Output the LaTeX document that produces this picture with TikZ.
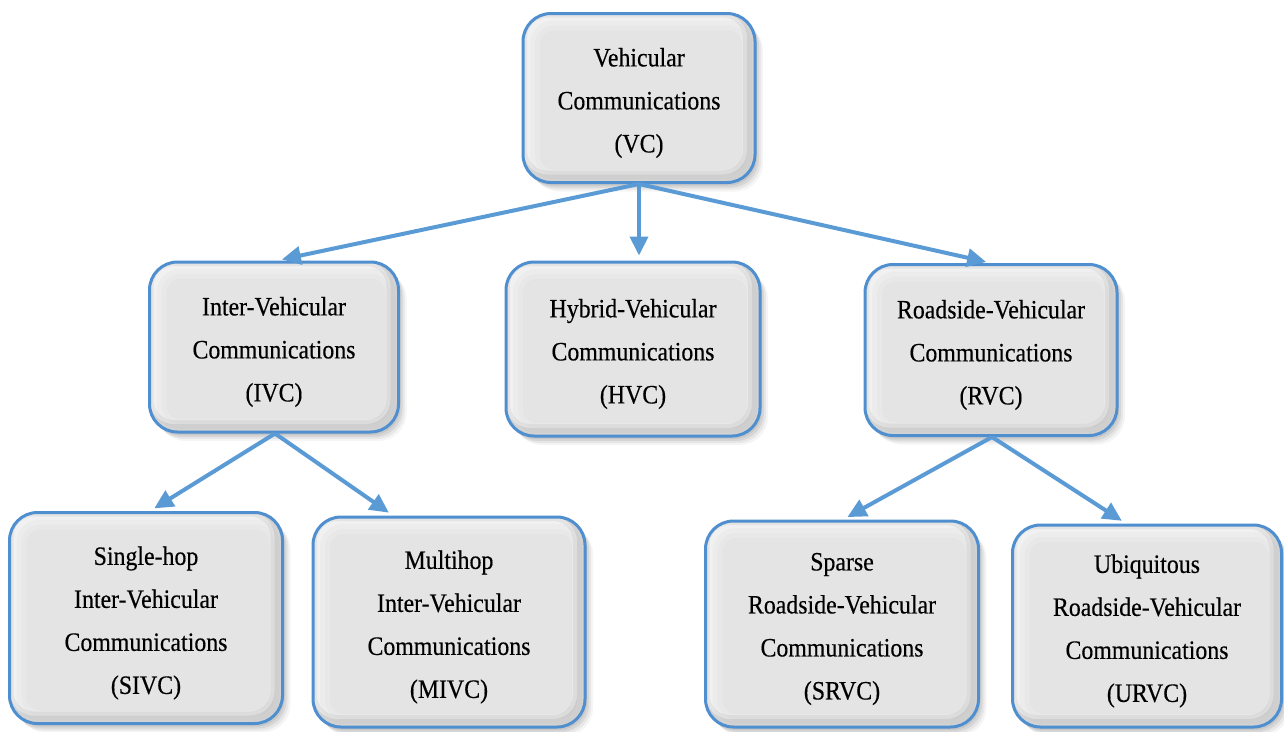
\documentclass[tikz,border=0pt]{standalone}
\usepackage{fontspec}
\setmainfont{Liberation Serif}[FakeStretch=0.9, FakeBold=0.35]
\usetikzlibrary{arrows.meta}
\definecolor{boxblue}{HTML}{4F8FCF}
\definecolor{arrowblue}{HTML}{5B9BD5}
\definecolor{boxgray}{HTML}{E4E4E4}
\tikzset{
  x=1pt, y=-1pt,
  softshadow/.style={preaction={fill=black, opacity=#1}},
  vbox/.style n args={3}{
    rounded corners=28pt, draw=boxblue, line width=3pt, fill=boxgray,
    minimum width=#1, minimum height=#2, inner sep=0pt,
    % soft shadow below and to the right
    preaction={fill=black, opacity=0.07, transform canvas={shift={(2pt,-3pt)}}},
    preaction={fill=black, opacity=0.07, transform canvas={shift={(4pt,-5pt)}}},
    preaction={fill=black, opacity=0.06, transform canvas={shift={(6pt,-7pt)}}},
    preaction={fill=black, opacity=0.04, transform canvas={shift={(8pt,-9pt)}}},
    label={[align=center, yshift=-5pt, font=\fontsize{26.5}{43}\selectfont]center:#3},
    path picture={
      \foreach \w/\o in {30/0.16, 20/0.2, 10/0.28}{
        \draw[white, opacity=\o, line width=\w pt, rounded corners=28pt]
          ([shift={(2pt,-2pt)}]path picture bounding box.south west) rectangle
          ([shift={(2pt,-2pt)}]path picture bounding box.north east);
      }
      \foreach \w/\o in {16/0.05, 8/0.07}{
        \draw[black, opacity=\o, line width=\w pt, rounded corners=28pt]
          ([shift={(-4pt,4pt)}]path picture bounding box.south west) rectangle
          ([shift={(-4pt,4pt)}]path picture bounding box.north east);
      }
    }
  },
  link/.style={draw=arrowblue, line width=4pt,
    -{Triangle[length=19pt,width=18pt]}, shorten >=5pt}
}
\begin{document}
\begin{tikzpicture}
\useasboundingbox (0,0) rectangle (1284,731);
\clip (0,0) rectangle (1284,731);

% top level
\node[vbox={232pt}{169pt}{Vehicular\\Communications\\(VC)}] (vc) at (639,98) {};

% second level
\node[vbox={249pt}{170pt}{Inter-Vehicular\\Communications\\(IVC)}] (ivc) at (274,347) {};
\node[vbox={254pt}{174pt}{Hybrid-Vehicular\\Communications\\(HVC)}] (hvc) at (633,349) {};
\node[vbox={252pt}{171pt}{Roadside-Vehicular\\Communications\\(RVC)}] (rvc) at (991,350) {};

% third level
\node[vbox={273pt}{211pt}{Single-hop\\Inter-Vehicular\\Communications\\(SIVC)}] (sivc) at (146,618) {};
\node[vbox={272pt}{210pt}{Multihop\\Inter-Vehicular\\Communications\\(MIVC)}] (mivc) at (449,622) {};
\node[vbox={273pt}{206pt}{Sparse\\Roadside-Vehicular\\Communications\\(SRVC)}] (srvc) at (842,624) {};
\node[vbox={269pt}{202pt}{Ubiquitous\\Roadside-Vehicular\\Communications\\(URVC)}] (urvc) at (1147,626) {};

% connectors
\draw[link] (vc.south) -- ([xshift=3pt]ivc.north);
\draw[link] (vc.south) -- (vc.south |- hvc.north);
\draw[link] (vc.south) -- (rvc.north);
\draw[link] ([xshift=1pt]ivc.south) -- ([xshift=4pt]sivc.north);
\draw[link] ([xshift=1pt]ivc.south) -- ([xshift=-56pt]mivc.north);
\draw[link] ([xshift=1pt]rvc.south) -- ([xshift=1pt]srvc.north);
\draw[link] ([xshift=1pt]rvc.south) -- ([xshift=-21pt]urvc.north);
\end{tikzpicture}
\end{document}
